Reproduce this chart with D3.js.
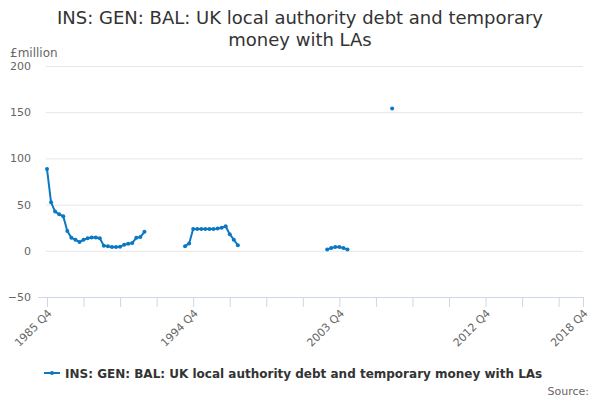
<!DOCTYPE html>
<html>
<head>
<meta charset="utf-8">
<script src="https://cdn.jsdelivr.net/npm/d3@7"></script>
<style>
  body { margin: 0; background: #ffffff; }
  svg { font-family: "DejaVu Sans", sans-serif; }
</style>
</head>
<body>
<div id="vis"></div>
<script>
// Chart data: quarterly values, null where there is no observation
const START_YEAR = 1985;
const START_QUARTER = 4;
const N_QUARTERS = 133; // 1985 Q4 .. 2018 Q4

// runs of observed values: [first quarter index, values...]
const SEGMENT_1_START = 0;   // 1985 Q4
const SEGMENT_1 = [88.5, 52.5, 42.5, 39.5, 37.5, 21.5, 14, 12, 9.5, 12, 13.5, 14.5, 14.5, 13.5,
                   5.5, 5, 4, 4, 4.5, 6.5, 7.5, 8.5, 14, 15, 20.5];
const SEGMENT_2_START = 34;  // 1994 Q2
const SEGMENT_2 = [5, 8, 23.5, 23.5, 23.5, 23.5, 23.5, 23.5, 24, 25, 26.5, 18, 12, 6];
const SEGMENT_3_START = 69;  // 2003 Q1
const SEGMENT_3 = [1.5, 3, 4, 4, 3, 1.5];
const SINGLE_START = 85;     // 2007 Q1
const SINGLE = [154];

const Y_TICKS = [-50, 0, 50, 100, 150, 200];
const X_LABELS = ["1985 Q4", "1994 Q4", "2003 Q4", "2012 Q4", "2018 Q4"];

const TITLE_LINES = ["INS: GEN: BAL: UK local authority debt and temporary", "money with LAs"];
const SERIES_NAME = "INS: GEN: BAL: UK local authority debt and temporary money with LAs";

// Frame and margins
const FRAME_WIDTH = 600;
const FRAME_HEIGHT = 400;
const MARGINS = {left: 47, right: 17, top: 66, bottom: 103};
const VIS_WIDTH = FRAME_WIDTH - MARGINS.left - MARGINS.right;
const VIS_HEIGHT = FRAME_HEIGHT - MARGINS.top - MARGINS.bottom;

const BLUE = "#0a78c2";

// Build the quarter labels and the full series
const quarters = d3.range(N_QUARTERS).map((i) => {
  const q = START_QUARTER - 1 + i;
  return (START_YEAR + Math.floor(q / 4)) + " Q" + (q % 4 + 1);
});
const values = quarters.map(() => null);
[[SEGMENT_1_START, SEGMENT_1], [SEGMENT_2_START, SEGMENT_2],
 [SEGMENT_3_START, SEGMENT_3], [SINGLE_START, SINGLE]].forEach(([s, arr]) => {
  arr.forEach((v, j) => { values[s + j] = v; });
});
const data = quarters.map((q, i) => ({q: q, i: i, v: values[i]}));

const FRAME = d3.select("#vis")
  .append("svg")
    .attr("width", FRAME_WIDTH)
    .attr("height", FRAME_HEIGHT);

// Scales
const X_SCALE = d3.scalePoint()
  .domain(quarters)
  .range([0, VIS_WIDTH]);

const Y_SCALE = d3.scaleLinear()
  .domain([-50, 200])
  .range([VIS_HEIGHT, 0]);

// Title
FRAME.append("text")
  .attr("x", FRAME_WIDTH / 2)
  .attr("y", 24)
  .attr("text-anchor", "middle")
  .style("font-size", "18px")
  .style("fill", "#333333")
  .selectAll("tspan")
  .data(TITLE_LINES)
  .enter()
  .append("tspan")
    .attr("x", FRAME_WIDTH / 2)
    .attr("dy", (d, i) => i === 0 ? 0 : 22)
    .text((d) => d);

// Y axis unit label
FRAME.append("text")
  .attr("x", 10)
  .attr("y", 57)
  .style("font-size", "12px")
  .style("fill", "#666666")
  .text("£million");

const PLOT = FRAME.append("g")
  .attr("transform", "translate(" + MARGINS.left + "," + MARGINS.top + ")");

// Y grid lines and labels
const yAxis = PLOT.append("g")
  .call(d3.axisLeft(Y_SCALE).tickValues(Y_TICKS).tickSize(-VIS_WIDTH).tickPadding(16));
yAxis.select(".domain").remove();
yAxis.selectAll(".tick line")
  .attr("stroke", "#e6e6e6")
  .attr("x1", -1);
yAxis.selectAll(".tick text")
  .style("font-family", "DejaVu Sans")
  .style("font-size", "11px")
  .style("fill", "#666666");

// X axis: tick every 9 quarters plus the last one, labels every 36 quarters
const tickQuarters = quarters.filter((q, i) => i % 9 === 0 || i === N_QUARTERS - 1);
const xAxis = PLOT.append("g")
  .attr("transform", "translate(0," + VIS_HEIGHT + ")")
  .call(d3.axisBottom(X_SCALE)
    .tickValues(tickQuarters)
    .tickSize(10)
    .tickSizeOuter(0)
    .tickFormat((d) => X_LABELS.includes(d) ? d : ""));
xAxis.select(".domain")
  .attr("stroke", "#ccd6eb")
  .attr("d", "M" + (-9) + ",0.5H" + (VIS_WIDTH + 1));
xAxis.selectAll(".tick line").attr("stroke", "#ccd6eb");
xAxis.selectAll(".tick text")
  .style("font-family", "DejaVu Sans")
  .style("font-size", "11px")
  .style("fill", "#666666")
  .attr("text-anchor", "end")
  .attr("x", 0)
  .attr("y", 0)
  .attr("dy", 0)
  .attr("transform", "translate(5,17) rotate(-45)");

// Line with gaps
const line = d3.line()
  .defined((d) => d.v !== null)
  .x((d) => X_SCALE(d.q))
  .y((d) => Y_SCALE(d.v));

PLOT.append("path")
  .datum(data)
  .attr("fill", "none")
  .attr("stroke", BLUE)
  .attr("stroke-width", 2)
  .attr("stroke-linejoin", "round")
  .attr("d", line);

// Markers
PLOT.selectAll(".point")
  .data(data.filter((d) => d.v !== null))
  .enter()
  .append("circle")
    .attr("class", "point")
    .attr("cx", (d) => X_SCALE(d.q))
    .attr("cy", (d) => Y_SCALE(d.v))
    .attr("r", 2)
    .attr("fill", BLUE);

// Legend
const LEGEND = FRAME.append("g")
  .attr("transform", "translate(44,373)");
LEGEND.append("line")
  .attr("x1", 0).attr("x2", 16)
  .attr("y1", 0).attr("y2", 0)
  .attr("stroke", BLUE)
  .attr("stroke-width", 2);
LEGEND.append("circle")
  .attr("cx", 8).attr("cy", 0).attr("r", 2)
  .attr("fill", BLUE);
LEGEND.append("text")
  .attr("x", 21)
  .attr("y", 5)
  .style("font-size", "12px")
  .style("font-weight", "bold")
  .style("fill", "#333333")
  .text(SERIES_NAME);

// Source credit
FRAME.append("text")
  .attr("x", 589)
  .attr("y", 395)
  .attr("text-anchor", "end")
  .style("font-size", "11px")
  .style("fill", "#666666")
  .text("Source:");
</script>
</body>
</html>
